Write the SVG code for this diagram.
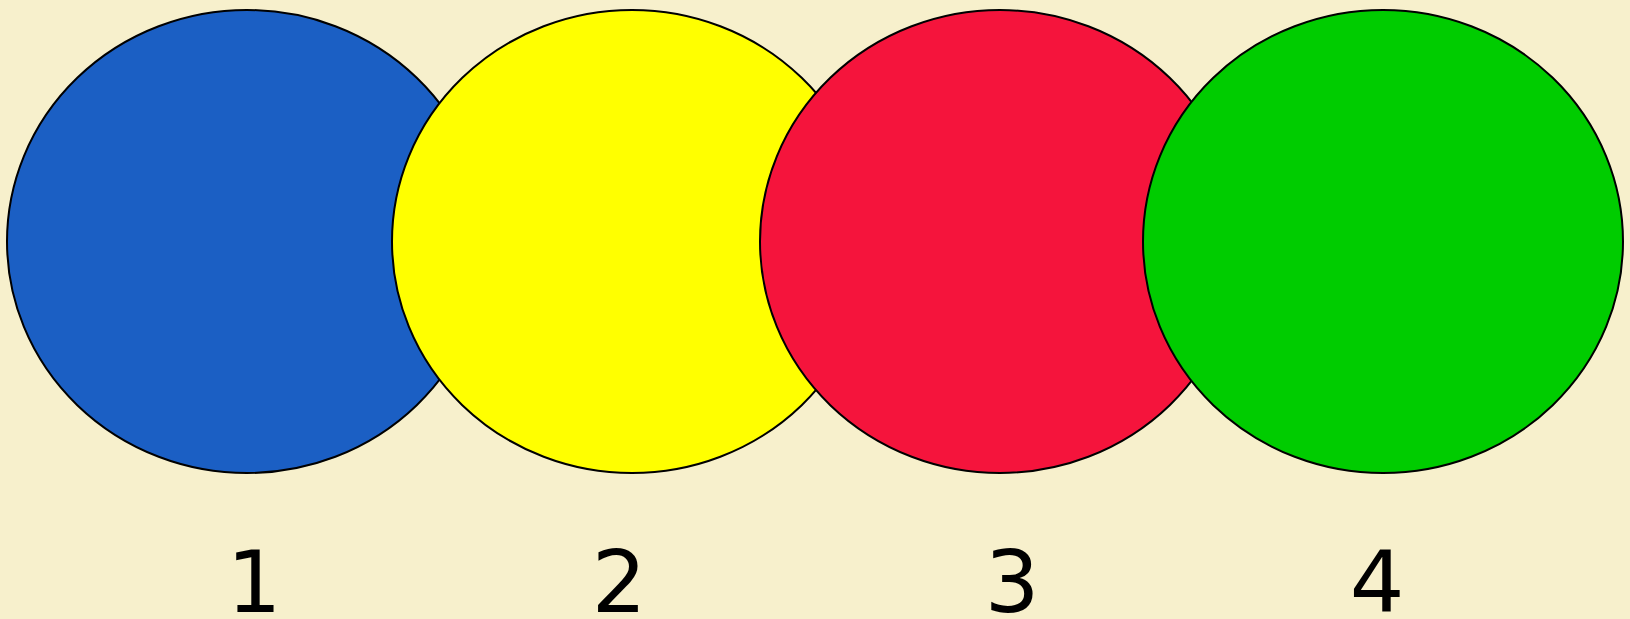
<svg xmlns="http://www.w3.org/2000/svg" width="1630" height="619" viewBox="0 0 1630 619">
<style>
.c{stroke:#000;stroke-width:2}
.t{font-family:"DejaVu Sans",Verdana,sans-serif;font-size:86px;fill:#000;text-anchor:middle}
</style>
<rect width="1630" height="619" fill="#F7F0CC"/>
<g id="n1"><ellipse class="c" cx="247" cy="241.5" rx="240" ry="231.5" fill="#1B5FC4"/></g>
<g id="n2"><ellipse class="c" cx="632" cy="241.5" rx="240" ry="231.5" fill="#FFFF00"/></g>
<g id="n3"><ellipse class="c" cx="1000" cy="241.5" rx="240" ry="231.5" fill="#F5143C"/></g>
<g id="n4"><ellipse class="c" cx="1383" cy="241.5" rx="240" ry="231.5" fill="#00CC00"/></g>
<g id="connectors"></g>
<g id="labels">
<text class="t" x="254" y="612">1</text>
<text class="t" x="619" y="612">2</text>
<text class="t" x="1012" y="612">3</text>
<text class="t" x="1377" y="612">4</text>
</g>
</svg>
